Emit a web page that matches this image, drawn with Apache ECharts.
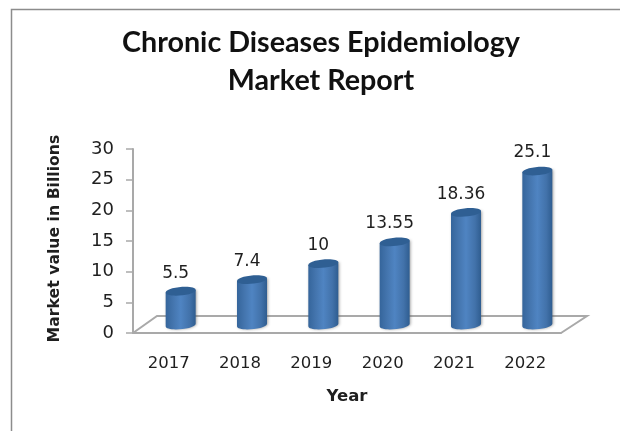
<!DOCTYPE html>
<html>
<head>
<meta charset="utf-8">
<style>html,body{margin:0;padding:0;background:#fff}#c{width:620px;height:431px}</style>
<script src="https://cdn.jsdelivr.net/npm/echarts@6/dist/echarts.min.js"></script>
</head>
<body>
<div id="c"></div>
<script>
const years = ['2017','2018','2019','2020','2021','2022'];
const marketValues = [5.5,7.4,10,13.55,18.36,25.1];
const valueLabels = ['5.5','7.4','10','13.55','18.36','25.1'];
const titleLines = ['Chronic Diseases Epidemiology','Market Report'];

const AXIS = '#a9a9a9', TEXT = '#1f1f1f';
const DX = 12, DY = -8, RX = 15, RY = 4.2, TILT = 1.3;

function cylinder(params, api) {
  const i = api.value(0), v = api.value(1);
  const top = api.coord([i, v]), base = api.coord([i, 0]);
  const cx = top[0] + DX, ty = top[1] + DY, by = base[1] + DY;
  const L = cx - RX, R = cx + RX;
  const k = RY * 1.33;
  const body = `M${L} ${ty + TILT}L${L} ${by + TILT}C${L} ${by + TILT + k} ${R} ${by - TILT + k} ${R} ${by - TILT}L${R} ${ty - TILT}Z`;
  const cap = `M${L} ${ty + TILT}C${L} ${ty + TILT - k} ${R} ${ty - TILT - k} ${R} ${ty - TILT}C${R} ${ty - TILT + k} ${L} ${ty + TILT + k} ${L} ${ty + TILT}Z`;
  return {
    type: 'group',
    children: [
      { type: 'path', shape: { pathData: body },
        style: {
          fill: new echarts.graphic.LinearGradient(0, 0, 1, 0, [
            { offset: 0, color: '#35659b' },
            { offset: 0.25, color: '#4475ae' },
            { offset: 0.5, color: '#4f84c2' },
            { offset: 0.8, color: '#4272aa' },
            { offset: 1, color: '#2f5d90' }
          ]),
          shadowBlur: 3, shadowColor: 'rgba(90,90,90,0.55)', shadowOffsetX: 1
        } },
      { type: 'path', shape: { pathData: cap }, style: { fill: '#2f5f93' } },
      { type: 'text', style: {
          text: valueLabels[i], x: cx - 5, y: ty - 18,
          align: 'center', verticalAlign: 'middle',
          font: '17px "DejaVu Sans"', fill: TEXT } }
    ]
  };
}

function floor(params, api) {
  const c = params.coordSys;
  const x0 = c.x, x1 = c.x + c.width, y = c.y + c.height, dx = 24, dy = -17;
  return {
    type: 'polyline',
    shape: { points: [[x0, y], [x0 + dx, y + dy], [x1 + 26, y + dy], [x1, y]] },
    style: { stroke: AXIS, lineWidth: 2, fill: 'none' }
  };
}

const chart = echarts.init(document.getElementById('c'), null, { renderer: 'canvas' });
chart.setOption({
  animation: false,
  backgroundColor: '#fff',
  title: {
    text: titleLines.join('\n'), left: 316, top: 19, textAlign: 'center',
    textStyle: { fontFamily: 'Lato', fontWeight: 'bold', fontSize: 28.7, lineHeight: 38, color: '#111' }
  },
  graphic: [
    { type: 'polyline', silent: true, shape: { points: [[11.5, 431], [11.5, 9.5], [620, 9.5]] },
      style: { stroke: '#8c8c8c', lineWidth: 1.5, fill: 'none' } }
  ],
  grid: { left: 133, top: 149, width: 428, height: 184 },
  xAxis: {
    type: 'category', data: years, name: 'Year', nameLocation: 'middle', nameGap: 55,
    nameTextStyle: { fontFamily: 'DejaVu Sans', fontWeight: 'bold', fontSize: 16.5, color: TEXT },
    axisLine: { lineStyle: { color: AXIS, width: 2 } },
    axisTick: { length: 7, alignWithLabel: false, lineStyle: { color: AXIS, width: 1.5 } },
    axisLabel: { fontFamily: 'DejaVu Sans', fontSize: 16.5, color: TEXT, margin: 22 },
    splitLine: { show: false }
  },
  yAxis: {
    type: 'value', min: 0, max: 30, interval: 5, name: 'Market value in Billions',
    nameLocation: 'middle', nameGap: 70, nameRotate: 90,
    nameTextStyle: { fontFamily: 'DejaVu Sans', fontWeight: 'bold', fontSize: 15.7, color: TEXT, padding: [0, 0, 0, 5] },
    axisLine: { show: true, lineStyle: { color: AXIS, width: 2 } },
    axisTick: { show: true, length: 7, lineStyle: { color: AXIS, width: 1.5 } },
    axisLabel: { fontFamily: 'DejaVu Sans', fontSize: 18, color: TEXT, margin: 19 },
    splitLine: { show: false }
  },
  series: [
    { type: 'custom', z: 1, silent: true, renderItem: floor, data: [0], encode: { x: 0, y: 0 }, clip: false },
    { type: 'custom', z: 2, renderItem: cylinder, clip: false,
      data: marketValues.map((v, i) => [i, v]), encode: { x: 0, y: 1 } }
  ]
});
</script>
</body>
</html>
